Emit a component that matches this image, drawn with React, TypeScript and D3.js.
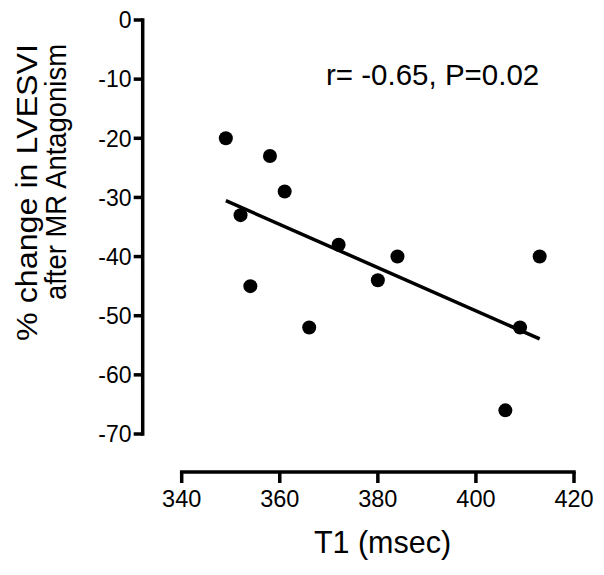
import React from "react";
import * as d3 from "d3";

const t1Values = [349, 352, 354, 358, 361, 366, 372, 380, 384, 406, 409, 413];
const lvesviChange = [-20, -33, -45, -23, -29, -52, -38, -44, -40, -66, -52, -40];
const xTicks = [340, 360, 380, 400, 420];
const yTicks = [0, -10, -20, -30, -40, -50, -60, -70];
const annotation = "r= -0.65, P=0.02";
const xTitle = "T1 (msec)";
const yTitleLines = ["% change in LVESVI", "after MR Antagonism"];

const W = 604;
const H = 575;
const FONT = "'Liberation Sans', Arial, Helvetica, sans-serif";

export default function App() {
  const x = d3.scaleLinear().domain([340, 420]).range([181.7, 574]);
  const y = d3.scaleLinear().domain([0, -70]).range([20, 434]);
  const xAxisY = 472;
  const yAxisX = 142.7;

  const mx = d3.mean(t1Values) as number;
  const my = d3.mean(lvesviChange) as number;
  let sxy = 0;
  let sxx = 0;
  t1Values.forEach((v, i) => {
    sxy += (v - mx) * (lvesviChange[i] - my);
    sxx += (v - mx) * (v - mx);
  });
  const slope = sxy / sxx;
  const intercept = my - slope * mx;
  const [x0, x1] = d3.extent(t1Values) as [number, number];
  const fitLine = d3
    .line<number>()
    .x((d) => x(d))
    .y((d) => y(intercept + slope * d));

  const sw = 3.5;
  const titleLens = [297, 256];

  return (
    <svg
      width={W}
      height={H}
      style={{ position: "absolute", left: 0, top: 0, background: "#fff" }}
      fontFamily={FONT}
    >
      <rect x={0} y={0} width={W} height={H} fill="#fff" />
      {/* Y axis */}
      <line x1={yAxisX} x2={yAxisX} y1={y(0) - sw / 2} y2={y(-70) + sw / 2} stroke="#000" strokeWidth={sw} />
      {yTicks.map((t) => (
        <g key={t}>
          <line x1={yAxisX - 9} x2={yAxisX} y1={y(t)} y2={y(t)} stroke="#000" strokeWidth={sw} />
          <text x={131.5} y={y(t)} dy="0.36em" textAnchor="end" fontSize={23} fill="#000">
            {t}
          </text>
        </g>
      ))}
      {/* X axis */}
      <line x1={x(340) - sw / 2} x2={x(420) + sw / 2} y1={xAxisY} y2={xAxisY} stroke="#000" strokeWidth={sw} />
      {xTicks.map((t) => (
        <g key={t}>
          <line x1={x(t)} x2={x(t)} y1={xAxisY} y2={xAxisY + 11} stroke="#000" strokeWidth={sw} />
          <text x={x(t)} y={506.5} textAnchor="middle" fontSize={23.5} fill="#000">
            {t}
          </text>
        </g>
      ))}
      {/* Regression line */}
      <path d={fitLine([x0, x1]) || ""} fill="none" stroke="#000" strokeWidth={3.5} />
      {/* Points */}
      {t1Values.map((v, i) => (
        <circle key={i} cx={x(v)} cy={y(lvesviChange[i])} r={7} fill="#000" />
      ))}
      {/* Annotation */}
      <text x={326} y={85} fontSize={29.5} fill="#000">
        {annotation}
      </text>
      {/* X title */}
      <text x={382.5} y={553} textAnchor="middle" fontSize={30.5} fill="#000">
        {xTitle}
      </text>
      {/* Y title */}
      {yTitleLines.map((line, i) => (
        <text
          key={i}
          transform={`translate(${37 + i * 29},${44}) rotate(-90)`}
          textAnchor="end"
          fontSize={30}
          textLength={titleLens[i]}
          lengthAdjust="spacingAndGlyphs"
          fill="#000"
        >
          {line}
        </text>
      ))}
    </svg>
  );
}
